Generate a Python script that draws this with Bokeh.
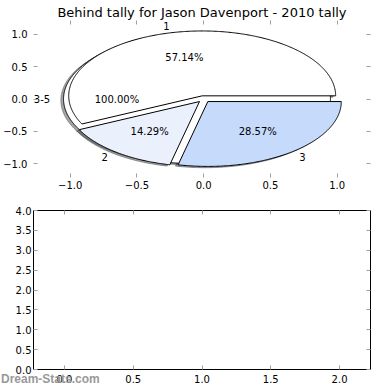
import numpy as np
from bokeh.plotting import figure
from bokeh.models import Range1d, LinearAxis, FixedTicker, ColumnDataSource, Div
from bokeh.layouts import column
from bokeh.embed import file_html
from bokeh.resources import INLINE
from bokeh.core.properties import value

# ---------------- data ----------------
title_text = "Behind tally for Jason Davenport - 2010 tally"
outer_labels = ["3-5"]
outer_counts = [1]
outer_colors = ["#ffffff"]
inner_labels = ["1", "2", "3"]
inner_counts = [4, 1, 2]
inner_colors = ["#ffffff", "#eaf1fd", "#c6dafc"]
explode = 0.05
shadow_shift = 0.02
top_xticks = [-1.0, -0.5, 0.0, 0.5, 1.0]
top_yticks = [-1.0, -0.5, 0.0, 0.5, 1.0]
bottom_xticks = [0.0, 0.5, 1.0, 1.5, 2.0]
bottom_yticks = [0.0, 0.5, 1.0, 1.5, 2.0, 2.5, 3.0, 3.5, 4.0]
watermark = "Dream-Stats.com"

FONT = "DejaVu Sans"


def fmt(t):
    return f"{t:.1f}".replace("-", "\u2212")


def darken(hexcol, k=0.3):
    h = hexcol.lstrip("#")
    r, g, b = (int(h[i:i + 2], 16) for i in (0, 2, 4))
    return "#%02x%02x%02x" % (int(r * k), int(g * k), int(b * k))


def pie_parts(counts, colors, labels):
    total = float(sum(counts))
    fracs = [c / total for c in counts]
    edges = np.concatenate([[0.0], np.cumsum(fracs)]) * 2 * np.pi
    w = dict(xs=[], ys=[], sxs=[], sys=[], color=[], shadow=[])
    t = dict(lx=[], ly=[], label=[], align=[], px=[], py=[], pct=[])
    for i, (f, col, lab) in enumerate(zip(fracs, colors, labels)):
        t1, t2 = edges[i], edges[i + 1]
        mid = 0.5 * (t1 + t2)
        cx, cy = explode * np.cos(mid), explode * np.sin(mid)
        n = max(int(np.degrees(t2 - t1)) * 2, 4)
        tt = np.linspace(t1, t2, n)
        xs = cx + np.cos(tt)
        ys = cy + np.sin(tt)
        if f < 0.99999:
            xs = np.concatenate([[cx], xs, [cx]])
            ys = np.concatenate([[cy], ys, [cy]])
        w["xs"].append(list(xs))
        w["ys"].append(list(ys))
        w["sxs"].append(list(xs - shadow_shift))
        w["sys"].append(list(ys - shadow_shift))
        w["color"].append(col)
        w["shadow"].append(darken(col))
        lx = cx + 1.1 * np.cos(mid)
        ly = cy + 1.1 * np.sin(mid)
        t["lx"].append(lx)
        t["ly"].append(ly)
        t["label"].append(lab)
        t["align"].append("left" if lx > 0 else "right")
        t["px"].append(cx + 0.6 * np.cos(mid))
        t["py"].append(cy + 0.6 * np.sin(mid))
        t["pct"].append(f"{100 * f:.2f}%")
    return w, t


def style_axis(ax, ticks, show_labels=True, standoff=4):
    ax.ticker = FixedTicker(ticks=ticks)
    ax.axis_line_color = None
    ax.major_tick_in = 4
    ax.major_tick_out = 0
    ax.major_tick_line_color = "#a0a0a0"
    ax.minor_tick_line_color = None
    ax.major_label_text_font = FONT
    ax.major_label_text_font_size = "10px"
    ax.major_label_text_color = "#000000"
    ax.major_label_standoff = standoff
    ax.major_label_overrides = {tk: fmt(tk) for tk in ticks}
    if not show_labels:
        ax.major_label_text_font_size = "0px"
        ax.major_label_text_color = None
        ax.major_label_standoff = 0


# ---------------- top: pie ----------------
p1 = figure(width=386, height=194,
            x_range=Range1d(-1.275, 1.25), y_range=Range1d(-1.21, 1.21),
            output_backend="svg", toolbar_location=None,
            min_border_left=33, min_border_right=16,
            min_border_top=20, min_border_bottom=17,
            title=title_text)
p1.title.text_font = FONT
p1.title.text_font_size = "13px"
p1.title.text_font_style = "normal"
p1.title.text_color = "black"
p1.title.align = "center"
p1.title.standoff = 2
p1.outline_line_color = None
p1.xgrid.visible = False
p1.ygrid.visible = False
style_axis(p1.xaxis[0], top_xticks, standoff=3)
style_axis(p1.yaxis[0], top_yticks, standoff=6)
ax_top = LinearAxis()
style_axis(ax_top, top_xticks, show_labels=False)
p1.add_layout(ax_top, "above")
ax_right = LinearAxis()
style_axis(ax_right, top_yticks, show_labels=False)
p1.add_layout(ax_right, "right")

w_out, t_out = pie_parts(outer_counts, outer_colors, outer_labels)
w_in, t_in = pie_parts(inner_counts, inner_colors, inner_labels)
src_wo = ColumnDataSource(w_out)
src_wi = ColumnDataSource(w_in)

for src in (src_wo, src_wi):
    p1.patches(xs="sxs", ys="sys", fill_color="shadow", fill_alpha=0.5,
               line_color="shadow", line_alpha=0.5, line_width=1, source=src)
for src in (src_wo, src_wi):
    p1.patches(xs="xs", ys="ys", fill_color="color", line_color="black",
               line_width=1, source=src)

for t in (t_out, t_in):
    src_t = ColumnDataSource(t)
    p1.text(x="lx", y="ly", text="label", text_align="align",
            text_baseline="middle", text_font=value(FONT),
            text_font_size="10px", text_color="black", source=src_t)
    p1.text(x="px", y="py", text="pct", text_align="center",
            text_baseline="middle", text_font=value(FONT),
            text_font_size="10px", text_color="black", source=src_t)

# ---------------- bottom: empty axes ----------------
p2 = figure(width=386, height=194,
            x_range=Range1d(-0.225, 2.225), y_range=Range1d(0.0, 4.0),
            output_backend="svg", toolbar_location=None,
            min_border_left=21, min_border_right=16,
            min_border_top=16, min_border_bottom=19)
p2.outline_line_color = "black"
p2.outline_line_width = 1
p2.xgrid.visible = False
p2.ygrid.visible = False
style_axis(p2.xaxis[0], bottom_xticks, standoff=5)
style_axis(p2.yaxis[0], bottom_yticks, standoff=2)
ax_top2 = LinearAxis()
style_axis(ax_top2, bottom_xticks, show_labels=False)
p2.add_layout(ax_top2, "above")
ax_right2 = LinearAxis()
style_axis(ax_right2, bottom_yticks, show_labels=False)
p2.add_layout(ax_right2, "right")

# watermark overlapping the lower-left corner, as in the reference
wm = Div(text=watermark, width=120, height=14, margin=(-16, 0, 0, 1),
         styles={"font-family": "Liberation Sans", "font-size": "12px",
                 "font-weight": "bold", "color": "#999999",
                 "line-height": "14px", "white-space": "nowrap"})

layout = column(p1, p2, wm)
open("out.html", "w").write(file_html(layout, INLINE))
